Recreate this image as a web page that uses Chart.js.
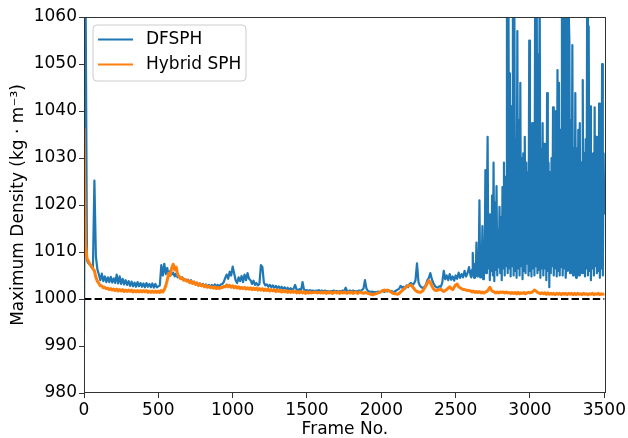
<!DOCTYPE html>
<html>
<head>
<meta charset="utf-8">
<script src="https://cdn.jsdelivr.net/npm/chart.js@4.4.1/dist/chart.umd.min.js"></script>
<style>
  html, body { margin: 0; padding: 0; background: #fff; }
  canvas { display: block; }
</style>
</head>
<body>
<canvas id="densityChart" width="628" height="438"></canvas>
<script>
// Données
// DFSPH : une valeur toutes les 10 frames de 0 à 2590, puis toutes les 5 frames de 2600 à 3500
const earlyStep = 10;
const lateStart = 2600;
const lateStep = 5;

const dfsphEarly = [
  // 0 - 90
  993.0, 1070, 1008.2, 1007.6, 1007.3, 1006.8, 1006.4, 1025.2, 1009.0, 1006.3,
  // 100 - 190
  1005.2, 1004.0, 1005.4, 1003.8, 1004.8, 1003.6, 1004.6, 1003.6, 1004.7, 1003.5,
  // 200 - 290
  1004.4, 1003.4, 1005.2, 1003.3, 1004.8, 1003.2, 1004.3, 1003.1, 1004.0, 1003.0,
  // 300 - 390
  1003.8, 1002.8, 1003.7, 1002.7, 1003.5, 1002.6, 1003.6, 1002.7, 1003.4, 1002.6,
  // 400 - 490
  1003.3, 1002.5, 1003.4, 1002.6, 1003.2, 1002.5, 1003.3, 1002.4, 1003.2, 1002.5,
  // 500 - 590
  1002.7, 1002.9, 1007.2, 1005.0, 1007.5, 1005.3, 1006.6, 1004.8, 1006.0, 1005.2,
  // 600 - 690
  1005.6, 1004.8, 1005.4, 1004.6, 1004.9, 1004.3, 1004.6, 1004.0, 1004.2, 1003.9,
  // 700 - 790
  1004.1, 1003.5, 1004.0, 1003.3, 1003.7, 1003.1, 1003.5, 1002.9, 1003.3, 1002.8,
  // 800 - 890
  1003.2, 1002.7, 1003.1, 1002.6, 1003.0, 1002.5, 1003.0, 1002.6, 1003.1, 1002.7,
  // 900 - 990
  1003.0, 1002.6, 1003.1, 1003.2, 1003.6, 1004.5, 1005.2, 1004.3, 1005.8, 1005.0,
  // 1000 - 1090
  1006.9, 1005.5, 1004.0, 1003.4, 1004.6, 1003.8, 1004.9, 1003.6, 1005.2, 1004.0,
  // 1100 - 1190
  1005.5, 1004.3, 1004.0, 1003.2, 1003.9, 1003.0, 1003.4, 1002.9, 1003.2, 1007.2,
  // 1200 - 1290
  1006.8, 1003.5, 1002.9, 1003.1, 1002.6, 1003.0, 1002.5, 1002.9, 1002.4, 1002.8,
  // 1300 - 1390
  1002.3, 1002.7, 1002.2, 1002.6, 1002.1, 1002.5, 1002.0, 1002.4, 1001.9, 1002.3,
  // 1400 - 1490
  1002.0, 1002.2, 1003.0, 1002.0, 1001.9, 1002.1, 1001.8, 1003.6, 1002.0, 1001.8,
  // 1500 - 1590
  1001.9, 1001.7, 1001.9, 1001.7, 1001.8, 1001.6, 1001.8, 1001.7, 1001.9, 1001.6,
  // 1600 - 1690
  1001.8, 1001.6, 1001.8, 1001.6, 1001.7, 1001.5, 1001.7, 1001.6, 1001.8, 1001.6,
  // 1700 - 1790
  1001.7, 1001.5, 1001.7, 1001.6, 1001.8, 1001.6, 1002.4, 1001.7, 1001.6, 1001.8,
  // 1800 - 1890
  1001.6, 1001.8, 1001.6, 1001.7, 1001.6, 1001.8, 1001.7, 1001.9, 1002.2, 1004.0,
  // 1900 - 1990
  1002.2, 1001.7, 1001.6, 1001.5, 1001.6, 1001.4, 1001.5, 1001.4, 1001.6, 1001.5,
  // 2000 - 2090
  1001.6, 1001.8, 1001.5, 1001.9, 1001.6, 1001.8, 1001.5, 1001.7, 1001.4, 1001.6,
  // 2100 - 2190
  1001.8, 1002.0, 1002.2, 1002.8, 1002.4, 1002.6, 1002.2, 1002.9, 1002.5, 1003.2,
  // 2200 - 2290
  1003.4, 1003.0, 1003.3, 1004.0, 1007.6, 1003.6, 1002.8, 1002.5, 1002.3, 1002.6,
  // 2300 - 2390
  1003.0, 1004.0, 1004.5, 1005.5, 1004.2, 1003.4, 1002.8, 1002.5, 1002.4, 1002.7,
  // 2400 - 2490
  1002.6, 1003.5, 1006.0, 1004.2, 1005.0, 1004.0, 1005.3, 1004.1, 1004.8, 1003.9,
  // 2500 - 2590
  1005.0, 1004.3, 1005.6, 1004.5, 1005.3, 1004.6, 1006.0, 1004.8, 1005.5, 1006.8
];

const dfsphLate = [
  // 2600 - 2695
  1005.0, 1004.6, 1006.2, 1009.8, 1005.0, 1004.5, 1007.5, 1005.2, 1012.0, 1004.8,
  1008.5, 1006.0, 1021.0, 1004.6, 1010.5, 1005.5, 1015.5, 1004.2, 1009.0, 1006.5,
  // 2700 - 2795
  1027.4, 1005.5, 1020.0, 1034.5, 1006.5, 1018.0, 1004.0, 1016.5, 1006.0, 1022.0,
  1005.0, 1029.0, 1003.8, 1020.5, 1006.2, 1024.0, 1005.0, 1014.5, 1006.8, 1019.6,
  // 2800 - 2895
  1005.5, 1017.4, 1004.0, 1023.8, 1006.5, 1029.0, 1005.0, 1026.0, 1007.0, 1070,
  1005.5, 1070, 1006.5, 1048.0, 1004.8, 1041.0, 1007.0, 1070, 1005.0, 1062.0,
  // 2900 - 2995
  1006.0, 1034.0, 1004.5, 1057.0, 1006.5, 1038.0, 1005.0, 1046.0, 1007.0, 1030.0,
  1004.2, 1031.0, 1006.0, 1034.5, 1005.5, 1029.0, 1007.5, 1027.0, 1005.0, 1055.0,
  // 3000 - 3095
  1006.0, 1031.0, 1004.8, 1037.4, 1006.5, 1029.0, 1005.0, 1070, 1007.0, 1070,
  1005.5, 1052.0, 1006.2, 1070, 1004.5, 1032.0, 1006.5, 1037.4, 1005.0, 1033.0,
  // 3100 - 3195
  1006.5, 1026.0, 1004.0, 1043.8, 1006.0, 1029.0, 1002.5, 1027.0, 1005.5, 1030.0,
  1007.0, 1040.8, 1005.0, 1031.0, 1006.5, 1040.0, 1004.8, 1048.7, 1006.0, 1046.0,
  // 3200 - 3295
  1005.0, 1036.0, 1006.8, 1070, 1005.0, 1070, 1006.5, 1066.0, 1004.5, 1007.5,
  1070, 1006.0, 1062.0, 1055.0, 1005.5, 1038.0, 1007.0, 1054.0, 1005.0, 1032.0,
  // 3300 - 3395
  1006.0, 1043.8, 1004.5, 1032.0, 1006.5, 1036.0, 1005.0, 1037.4, 1007.0, 1029.0,
  1005.5, 1046.6, 1006.0, 1031.0, 1004.8, 1034.0, 1006.5, 1070, 1005.0, 1058.0,
  // 3400 - 3495
  1006.0, 1041.0, 1004.0, 1030.0, 1006.5, 1031.0, 1005.0, 1040.8, 1007.0, 1034.5,
  1005.5, 1028.0, 1006.0, 1041.6, 1004.5, 1030.0, 1006.5, 1050.0, 1005.0, 1031.0,
  // 3500
  1018.0
];

// Hybrid SPH : une valeur toutes les 10 frames de 0 à 3500
const hybridStep = 10;
const hybridSph = [
  // 0 - 90
  1036.4, 1012.0, 1008.6, 1008.0, 1007.4, 1007.0, 1006.4, 1006.0, 1004.6, 1003.8,
  // 100 - 190
  1003.3, 1002.8, 1002.8, 1002.4, 1002.5, 1002.2, 1002.3, 1002.0, 1002.2, 1001.9,
  // 200 - 290
  1002.1, 1001.8, 1002.1, 1001.7, 1002.0, 1001.7, 1002.0, 1001.6, 1001.9, 1001.6,
  // 300 - 390
  1001.9, 1001.6, 1001.9, 1001.5, 1001.8, 1001.5, 1001.8, 1001.5, 1001.8, 1001.5,
  // 400 - 490
  1001.8, 1001.5, 1001.8, 1001.4, 1001.7, 1001.4, 1001.7, 1001.4, 1001.7, 1001.4,
  // 500 - 590
  1001.7, 1001.4, 1001.8, 1001.5, 1002.0, 1002.8, 1004.0, 1005.5, 1005.0, 1006.6,
  // 600 - 690
  1007.4, 1006.2, 1006.8, 1005.2, 1004.8, 1004.3, 1004.5, 1004.0, 1004.2, 1003.8,
  // 700 - 790
  1003.9, 1003.5, 1003.8, 1003.3, 1003.6, 1003.1, 1003.4, 1002.9, 1003.2, 1002.8,
  // 800 - 890
  1003.0, 1002.6, 1002.9, 1002.5, 1002.7, 1002.4, 1002.6, 1002.3, 1002.6, 1002.2,
  // 900 - 990
  1002.5, 1002.2, 1002.5, 1002.4, 1002.7, 1002.6, 1003.0, 1002.6, 1002.9, 1002.5,
  // 1000 - 1090
  1002.8, 1002.4, 1002.7, 1002.3, 1002.6, 1002.2, 1002.5, 1002.2, 1002.5, 1002.1,
  // 1100 - 1190
  1002.4, 1002.1, 1002.4, 1002.0, 1002.3, 1002.0, 1002.3, 1001.9, 1002.2, 1001.9,
  // 1200 - 1290
  1002.2, 1001.8, 1002.1, 1001.8, 1002.1, 1001.7, 1002.0, 1001.7, 1002.0, 1001.6,
  // 1300 - 1390
  1001.9, 1001.6, 1001.9, 1001.5, 1001.8, 1001.5, 1001.8, 1001.4, 1001.7, 1001.4,
  // 1400 - 1490
  1001.7, 1001.4, 1001.7, 1001.3, 1001.6, 1001.3, 1001.6, 1001.3, 1001.6, 1001.2,
  // 1500 - 1590
  1001.5, 1001.3, 1001.5, 1001.3, 1001.4, 1001.4, 1001.5, 1001.3, 1001.4, 1001.3,
  // 1600 - 1690
  1001.5, 1001.3, 1001.5, 1001.2, 1001.5, 1001.3, 1001.5, 1001.2, 1001.4, 1001.5,
  // 1700 - 1790
  1001.3, 1001.5, 1001.2, 1001.5, 1001.3, 1001.5, 1001.3, 1001.2, 1001.5, 1001.3,
  // 1800 - 1890
  1001.5, 1001.2, 1001.4, 1001.5, 1001.2, 1001.4, 1001.5, 1001.3, 1001.2, 1001.4,
  // 1900 - 1990
  1001.3, 1001.2, 1001.1, 1001.0, 1000.9, 1001.0, 1001.1, 1001.2, 1001.3, 1001.4,
  // 2000 - 2090
  1001.6, 1001.8, 1001.9, 1001.7, 1001.9, 1001.8, 1001.6, 1001.4, 1001.2, 1001.1,
  // 2100 - 2190
  1001.1, 1001.0, 1001.2, 1001.5, 1001.8, 1002.1, 1002.4, 1002.6, 1002.8, 1002.9,
  // 2200 - 2290
  1003.0, 1002.6, 1002.2, 1001.8, 1001.6, 1001.5, 1001.4, 1001.5, 1001.8, 1002.3,
  // 2300 - 2390
  1002.8, 1003.4, 1003.9, 1003.5, 1002.8, 1002.2, 1001.9, 1001.8, 1001.9, 1002.0,
  // 2400 - 2490
  1002.1, 1001.8, 1001.6, 1001.8, 1002.0, 1002.3, 1002.6, 1002.2, 1002.0, 1002.5,
  // 2500 - 2590
  1003.0, 1003.2, 1002.6, 1002.4, 1002.2, 1002.0, 1002.0, 1001.9, 1001.8, 1001.8,
  // 2600 - 2690
  1001.7, 1001.5, 1001.7, 1001.4, 1001.6, 1001.4, 1001.6, 1001.3, 1001.5, 1001.3,
  // 2700 - 2790
  1001.5, 1001.6, 1002.0, 1002.5, 1001.9, 1001.6, 1001.5, 1001.3, 1001.5, 1001.3,
  // 2800 - 2890
  1001.5, 1001.4, 1001.5, 1001.3, 1001.5, 1001.3, 1001.4, 1001.2, 1001.4, 1001.2,
  // 2900 - 2990
  1001.4, 1001.1, 1001.4, 1001.1, 1001.3, 1001.2, 1001.4, 1001.1, 1001.3, 1001.4,
  // 3000 - 3090
  1001.3, 1001.4, 1001.6, 1001.9, 1001.7, 1001.4, 1001.3, 1001.1, 1001.3, 1001.1,
  // 3100 - 3190
  1001.3, 1001.0, 1001.3, 1001.0, 1001.2, 1001.0, 1001.2, 1000.9, 1001.2, 1001.0,
  // 3200 - 3290
  1001.2, 1000.9, 1001.2, 1001.0, 1001.2, 1000.9, 1001.2, 1001.0, 1001.2, 1000.9,
  // 3300 - 3390
  1001.2, 1000.9, 1001.2, 1001.0, 1001.1, 1000.9, 1001.2, 1001.0, 1001.1, 1000.9,
  // 3400 - 3490
  1001.1, 1001.0, 1001.2, 1000.9, 1001.1, 1001.0, 1001.2, 1000.9, 1001.1, 1001.0,
  // 3500
  1001.1
];

// Densité de référence (ligne pointillée)
const restDensity = 1000;
const refFrames = [0, 3500];

// Graduations des axes
const xTicks = [0, 500, 1000, 1500, 2000, 2500, 3000, 3500];
const yTicks = [980, 990, 1000, 1010, 1020, 1030, 1040, 1050, 1060];
const xMax = 3510;

// Police type matplotlib
const fontFamily = "'DejaVu Sans', sans-serif";
const fontSize = 17;
Chart.defaults.font.family = fontFamily;
Chart.defaults.color = '#000';

// Construction des points {x, y} à partir des tableaux
const dfsphPoints = dfsphEarly.map((v, i) => ({ x: i * earlyStep, y: v }))
    .concat(dfsphLate.map((v, i) => ({ x: lateStart + i * lateStep, y: v })));
const hybridPoints = hybridSph.map((v, i) => ({ x: i * hybridStep, y: v }));

// Cadre complet autour de la zone de tracé (comme les "spines" de matplotlib)
const framePlugin = {
    id: 'frame',
    afterDatasetsDraw(chart) {
        const { ctx, chartArea: a } = chart;
        ctx.save();
        ctx.strokeStyle = '#333';
        ctx.lineWidth = 1;
        ctx.strokeRect(Math.round(a.left) + 0.5, Math.round(a.top) + 0.5,
                       Math.round(a.right - a.left) - 1, Math.round(a.bottom - a.top) - 1);
        ctx.restore();
    }
};

// Légende dans le coin supérieur gauche, avec boîte arrondie
const boxLegendPlugin = {
    id: 'boxLegend',
    afterDraw(chart) {
        const { ctx, chartArea: a } = chart;
        const items = chart.data.datasets.filter(d => d.label);
        const x = a.left + 9, y = a.top + 8, w = 153, h = 56, r = 4;
        ctx.save();
        ctx.beginPath();
        ctx.moveTo(x + r, y);
        ctx.arcTo(x + w, y, x + w, y + h, r);
        ctx.arcTo(x + w, y + h, x, y + h, r);
        ctx.arcTo(x, y + h, x, y, r);
        ctx.arcTo(x, y, x + w, y, r);
        ctx.closePath();
        ctx.fillStyle = 'rgba(255,255,255,0.8)';
        ctx.fill();
        ctx.strokeStyle = '#cccccc';
        ctx.lineWidth = 1;
        ctx.stroke();
        ctx.font = fontSize + 'px ' + fontFamily;
        ctx.textBaseline = 'middle';
        items.forEach((d, i) => {
            const cy = y + 14.5 + i * 25;
            ctx.strokeStyle = d.borderColor;
            ctx.lineWidth = 2;
            ctx.beginPath();
            ctx.moveTo(x + 5, cy);
            ctx.lineTo(x + 40, cy);
            ctx.stroke();
            ctx.fillStyle = '#000';
            ctx.fillText(d.label, x + 53, cy);
        });
        ctx.restore();
    }
};

const ctx = document.getElementById('densityChart').getContext('2d');
const myChart = new Chart(ctx, {
    type: 'line',
    data: {
        datasets: [{
            label: 'DFSPH',
            data: dfsphPoints,
            borderColor: '#1f77b4',
            borderWidth: 2.2,
            order: 3
        }, {
            label: 'Hybrid SPH',
            data: hybridPoints,
            borderColor: '#ff7f0e',
            borderWidth: 3,
            order: 2
        }, {
            label: '',
            data: refFrames.map(f => ({ x: f, y: restDensity })),
            borderColor: '#000',
            borderWidth: 2,
            borderDash: [7.4, 3.2],
            order: 1
        }]
    },
    options: {
        responsive: false,
        animation: false,
        devicePixelRatio: 1,
        elements: {
            point: { radius: 0 },
            line: { tension: 0, borderJoinStyle: 'round', fill: false }
        },
        layout: { padding: { left: 0, top: 17, right: 20, bottom: 0 } },
        plugins: {
            legend: { display: false },
            tooltip: { enabled: false }
        },
        scales: {
            x: {
                type: 'linear',
                min: 0,
                max: xMax,
                afterBuildTicks: scale => { scale.ticks = xTicks.map(v => ({ value: v })); },
                afterFit: scale => { scale.height = 45; },
                grid: { drawOnChartArea: false, drawTicks: true, tickLength: 5, color: '#333' },
                border: { display: false },
                ticks: { font: { size: fontSize }, padding: 2, maxRotation: 0, color: '#000', callback: v => String(v) },
                title: { display: true, text: 'Frame No.', font: { size: fontSize }, padding: { top: 0, bottom: -2 }, color: '#000' }
            },
            y: {
                type: 'linear',
                min: 980,
                max: 1060,
                afterBuildTicks: scale => { scale.ticks = yTicks.map(v => ({ value: v })); },
                afterFit: scale => { scale.width = 84; },
                grid: { drawOnChartArea: false, drawTicks: true, tickLength: 5, color: '#333' },
                border: { display: false },
                ticks: { font: { size: fontSize }, padding: 2, color: '#000', callback: v => String(v) },
                title: { display: true, text: 'Maximum Density (kg · m⁻³)', font: { size: fontSize }, padding: { top: 8, bottom: 0 }, color: '#000' }
            }
        }
    },
    plugins: [framePlugin, boxLegendPlugin]
});
</script>
</body>
</html>
